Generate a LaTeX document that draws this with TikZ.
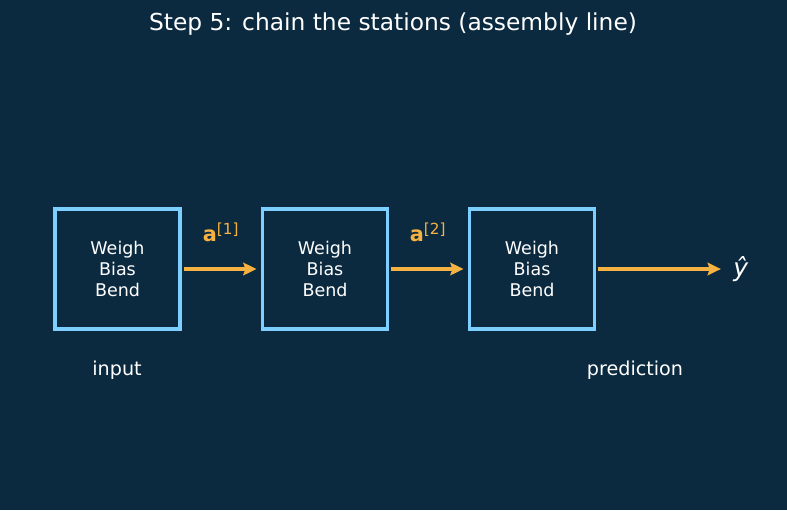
\documentclass[tikz,border=0pt]{standalone}
\usepackage{fontspec}
\setmainfont{DejaVu Sans}
\usetikzlibrary{arrows.meta}
\definecolor{bgnavy}{RGB}{11,42,64}
\definecolor{boxblue}{RGB}{125,207,255}
\definecolor{flowgold}{RGB}{245,178,66}
\begin{document}
\begin{tikzpicture}[x=0.72pt,y=-0.72pt,>={Stealth[length=9.5pt,width=9pt,inset=1.5pt]},
	station/.style={draw=boxblue, line width=2.2pt, minimum width=90pt, minimum height=86.4pt,
		inner sep=0pt, align=center, text=white, font=\fontsize{12.6}{15.2}\selectfont},
	flow/.style={->, draw=flowgold, line width=2.2pt, shorten <=1.5pt, shorten >=3.2pt},
	actlbl/.style={text=flowgold, font=\fontsize{15}{18}\selectfont, inner sep=0pt},
	tag/.style={text=white, font=\fontsize{13.8}{16}\selectfont}]
	
	%background and frame
	\fill[bgnavy] (0,0) rectangle (787,510);
	\useasboundingbox (0,0) rectangle (787,510);
	
	%title
	\node[text=white, font=\fontsize{16.8}{20}\selectfont] (title) at (393,24) {Step 5: chain the stations (assembly line)};
	
	% the stations
	\foreach \cx/\n in {117.5/s1,325/s2,532/s3}
		\node[station] (\n) at (\cx,269) {Weigh\\Bias\\Bend};
	
	% the output
	\node[text=white, font=\fontsize{18}{20}\selectfont, inner sep=0pt] (yhat) at (741,269) {\textit{ŷ}};
	
	% the flow between stations
	\draw[flow] (s1) -- (s2);
	\draw[flow] (s2) -- (s3);
	\draw[flow, shorten >=14.5pt] (s3) -- (yhat.center);
	
	\node[actlbl] (a1) at (221,232) {\textbf{a}\textsuperscript{\fontsize{11}{12}\selectfont[1]}};
	\node[actlbl] (a2) at (428,232) {\textbf{a}\textsuperscript{\fontsize{11}{12}\selectfont[2]}};
	
	% tags below
	\node[tag] (inp) at (117,370) {input};
	\node[tag] (pred) at (635,370) {prediction};
\end{tikzpicture}
\end{document}
